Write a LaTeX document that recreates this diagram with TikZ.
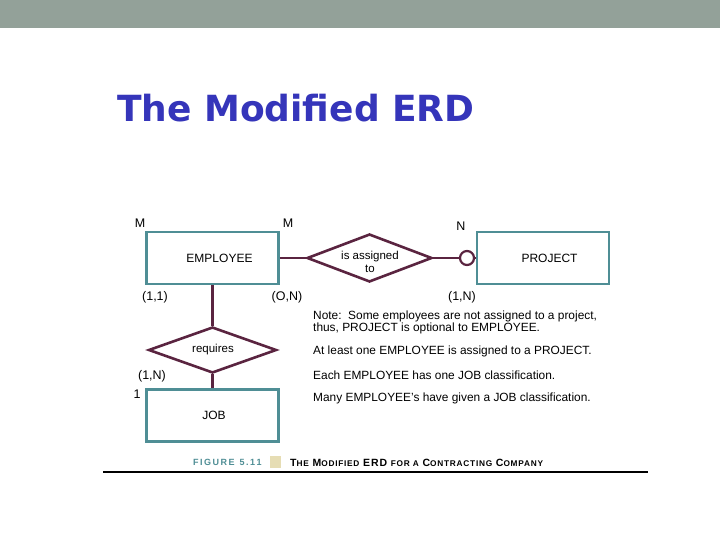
\documentclass[tikz,border=0pt]{standalone}
\usepackage{fontspec}
\setmainfont{Liberation Sans}
\newfontfamily\titlefont{DejaVu Sans}
\newfontfamily\capfont[LetterSpace=9]{Liberation Sans}
\usetikzlibrary{shapes.geometric}
\definecolor{bargray}{HTML}{93A199}
\definecolor{titleblue}{HTML}{3535BA}
\definecolor{entteal}{HTML}{4F8E95}
\definecolor{relmaroon}{HTML}{5A2440}
\definecolor{captan}{HTML}{E6DDB4}
\newcommand{\fsc}[2]{{\fontsize{10.5}{11}\selectfont #1}{\fontsize{8.3}{9}\selectfont #2}}
\tikzset{
  entity/.style={draw=entteal, line width=2.6pt, minimum width=132pt, minimum height=52pt, inner sep=0pt, font=\fontsize{12}{14}\selectfont},
  relation/.style={diamond, draw=relmaroon, line width=2.6pt, inner sep=0pt, aspect=2.6},
  rellabel/.style={font=\fontsize{11.5}{12.5}\selectfont, align=center, inner sep=0pt},
  conn/.style={draw=relmaroon, line width=2.6pt},
  card/.style={font=\fontsize{12.5}{14}\selectfont, inner sep=0pt},
  note/.style={font=\fontsize{11.9}{12}\selectfont, inner sep=0pt, anchor=west}
}
\begin{document}
\begin{tikzpicture}[x=1pt, y=-1pt]
\useasboundingbox (0,0) rectangle (720,540);
\fill[white] (0,0) rectangle (720,540);
\fill[bargray] (0,0) rectangle (720,28);
\node[anchor=base west, inner sep=0pt, text=titleblue, font=\titlefont\bfseries\fontsize{36}{40}\selectfont] (title) at (117,122) {The Modified ERD};

% entities
\node[entity] (emp) at (212.5,258) {\hspace{14pt}EMPLOYEE};
\node[entity] (proj) at (543,258) {\hspace{13pt}PROJECT};
\node[entity] (job) at (212.5,415.5) {\hspace{3pt}JOB};

% relationships
\node[relation, minimum width=125pt, minimum height=48pt] (assign) at (369.5,258) {};
\node[rellabel] (assignlbl) at (370,262) {is assigned\\to};
\node[relation, minimum width=128pt, minimum height=46pt] (req) at (212.5,350) {};
\node[rellabel] (reqlbl) at (213,350) {requires};

% optional circle
\node[circle, draw=relmaroon, line width=2.2pt, minimum size=14pt, inner sep=0pt, fill=white] (opt) at (467,258) {};

% connectors
\draw[conn] (emp.east) -- (assign.west);
\draw[conn] (assign.east) -- (opt.west);
\draw[conn] (opt.east) -- (proj.west);
\draw[conn] (emp.south) -- (req.north);
\draw[conn] (req.south) -- (job.north);

% cardinalities
\node[card] (m1) at (140,223) {M};
\node[card] (m2) at (288,223) {M};
\node[card] (n1) at (461,226) {N};
\node[card] (c11) at (155,297) {(1,1)};
\node[card] (c0n) at (287,297) {(O,N)};
\node[card] (c1n) at (462,297) {(1,N)};
\node[card] (c1nj) at (152,376) {(1,N)};
\node[card] (one) at (137,394) {1};

% notes
\node[note] (t1) at (313,316.5) {Note:\ \ Some employees are not assigned to a project,};
\node[note] (t2) at (313,328) {thus, PROJECT is optional to EMPLOYEE.};
\node[note] (t3) at (313,351) {At least one EMPLOYEE is assigned to a PROJECT.};
\node[note] (t4) at (313,375) {Each EMPLOYEE has one JOB classification.};
\node[note] (t5) at (313,398) {Many EMPLOYEE's have given a JOB classification.};

% caption
\node[anchor=west, inner sep=0pt, text=entteal, font=\bfseries\fontsize{9}{10}\selectfont] (fig) at (193,462.5) {F\,I\,G\,U\,R\,E\ \ 5\,.\,1\,1};
\fill[captan] (270,456) rectangle (281,468);
\node[anchor=west, inner sep=0pt, font=\capfont\bfseries] (cap) at (290,462.5) {\fsc{T}{HE} \fsc{M}{ODIFIED} \fsc{ERD}{} \fsc{}{FOR A} \fsc{C}{ONTRACTING} \fsc{C}{OMPANY}};
\draw[line width=2pt, black] (103,471.5) -- (648,471.5);
\end{tikzpicture}
\end{document}
